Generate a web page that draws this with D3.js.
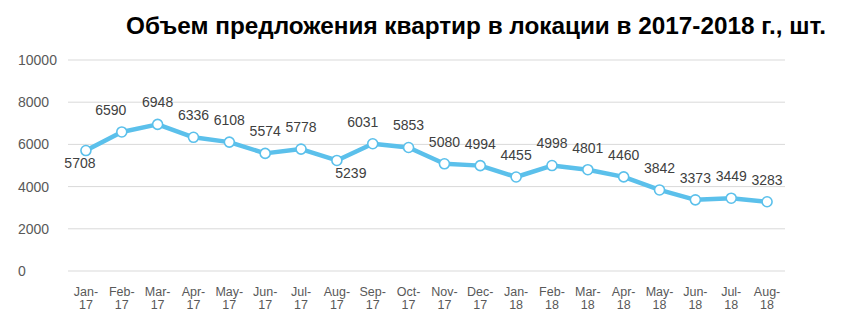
<!DOCTYPE html>
<html>
<head>
<meta charset="utf-8">
<script src="https://cdn.jsdelivr.net/npm/d3@7/dist/d3.min.js"></script>
<style>
  html, body { margin: 0; padding: 0; background: #fff; }
  svg { display: block; font-family: "Liberation Sans", Arial, sans-serif; }
</style>
</head>
<body>
<svg id="chart" width="842" height="331"></svg>
<script>
// Monthly apartment supply, Jan 2017 – Aug 2018
const months = ["Jan-17","Feb-17","Mar-17","Apr-17","May-17","Jun-17","Jul-17","Aug-17","Sep-17","Oct-17",
                "Nov-17","Dec-17","Jan-18","Feb-18","Mar-18","Apr-18","May-18","Jun-18","Jul-18","Aug-18"];
const supply = [5708, 6590, 6948, 6336, 6108, 5574, 5778, 5239, 6031, 5853,
                5080, 4994, 4455, 4998, 4801, 4460, 3842, 3373, 3449, 3283];
const yTicks = [0, 2000, 4000, 6000, 8000, 10000];
const title = "Объем предложения квартир в локации в 2017-2018 г., шт.";

// Label placement: a few labels sit below the point or are nudged sideways
const belowIdx = new Set([0, 7]);
const labelNudge = {0: -6, 1: -11, 7: 14, 8: -10};

const svg = d3.select("#chart");
const plotLeft = 68, plotRight = 785, plotTop = 60, plotBottom = 271;

const x = d3.scaleBand().domain(months).range([plotLeft, plotRight]);
const y = d3.scaleLinear().domain([0, 10000]).range([plotBottom, plotTop]);
const cx = m => x(m) + x.bandwidth() / 2;

// Title
svg.append("text")
  .attr("x", 476).attr("y", 34)
  .attr("text-anchor", "middle")
  .attr("font-size", 24).attr("font-weight", "bold")
  .attr("fill", "#000")
  .attr("textLength", 700).attr("lengthAdjust", "spacingAndGlyphs")
  .text(title);

// Horizontal gridlines
svg.append("g").selectAll("line").data(yTicks).join("line")
  .attr("x1", plotLeft).attr("x2", plotRight)
  .attr("y1", d => y(d)).attr("y2", d => y(d))
  .attr("stroke", "#d9d9d9").attr("stroke-width", 1);

// Y tick labels (left aligned)
svg.append("g").selectAll("text").data(yTicks).join("text")
  .attr("x", 18).attr("y", d => y(d)).attr("dy", "0.35em")
  .attr("font-size", 14).attr("fill", "#595959")
  .text(d => d);

// X tick labels, two lines each
const xl = svg.append("g").selectAll("text").data(months).join("text")
  .attr("x", d => cx(d)).attr("y", 296)
  .attr("text-anchor", "middle")
  .attr("font-size", 12.5).attr("fill", "#595959");
xl.append("tspan").attr("x", d => cx(d)).text(d => d.split("-")[0] + "-");
xl.append("tspan").attr("x", d => cx(d)).attr("dy", 12.5).text(d => d.split("-")[1]);

// Line
const pts = months.map((m, i) => ({m, v: supply[i], i}));
svg.append("path")
  .datum(pts)
  .attr("fill", "none")
  .attr("stroke", "#5bc0eb")
  .attr("stroke-width", 4.5)
  .attr("stroke-linejoin", "round")
  .attr("d", d3.line().x(d => cx(d.m)).y(d => y(d.v)));

// Markers
svg.append("g").selectAll("circle").data(pts).join("circle")
  .attr("cx", d => cx(d.m)).attr("cy", d => y(d.v))
  .attr("r", 5)
  .attr("fill", "#fff").attr("stroke", "#5bc0eb").attr("stroke-width", 1.6);

// Value labels
svg.append("g").selectAll("text").data(pts).join("text")
  .attr("x", d => cx(d.m) + (labelNudge[d.i] || 0))
  .attr("y", d => y(d.v) + (belowIdx.has(d.i) ? 13 : -22))
  .attr("dy", "0.35em")
  .attr("text-anchor", "middle")
  .attr("font-size", 14).attr("fill", "#404040")
  .text(d => d.v);
</script>
</body>
</html>
